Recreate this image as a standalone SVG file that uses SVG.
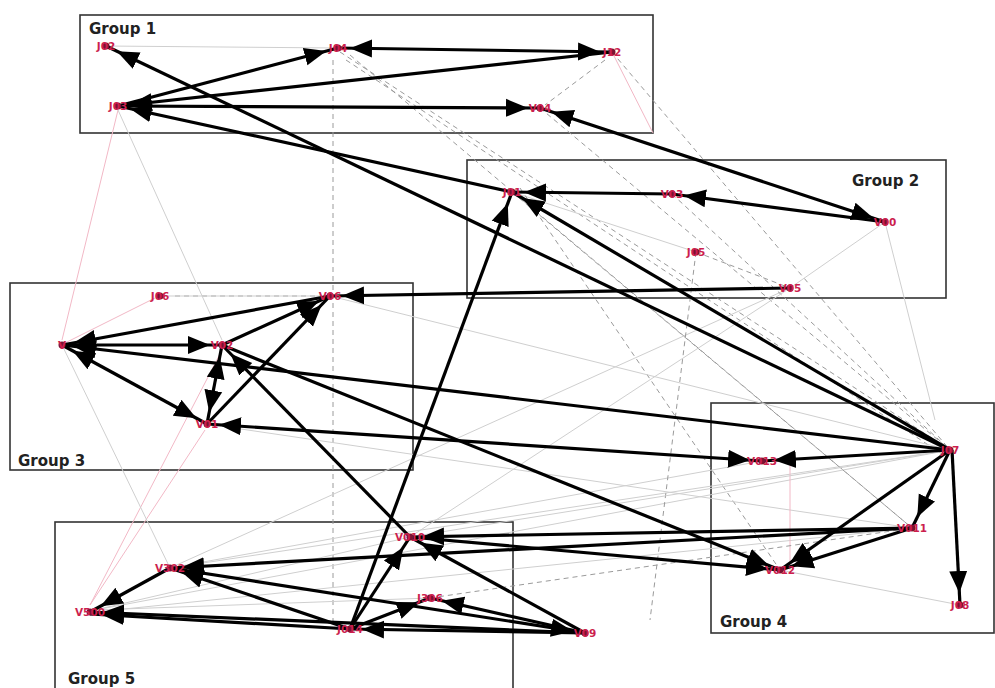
<svg xmlns="http://www.w3.org/2000/svg" width="995" height="688" viewBox="0 0 995 688">
<style>
.grp{fill:none;stroke:#333;stroke-width:1.6}
.gl{font-family:"DejaVu Sans",Verdana,sans-serif;font-weight:bold;font-size:15px;fill:#222}
.e{stroke:#000;stroke-width:3.2;fill:none;marker-end:url(#ah)}
.b{stroke:#000;stroke-width:3.2;fill:none;marker-end:url(#ah);marker-start:url(#ah)}
.f{stroke:#cfcfcf;stroke-width:1;fill:none}
.fd{stroke:#9a9a9a;stroke-width:1;fill:none;stroke-dasharray:5 4}
.fp{stroke:#f2b8c6;stroke-width:1;fill:none}
.dot{fill:#7a1232}
.nl{font-family:"DejaVu Sans",Verdana,sans-serif;font-weight:bold;font-size:10.5px;fill:#cc1f4e;text-anchor:middle;dominant-baseline:central}
</style>
<defs>
<marker id="ah" markerUnits="userSpaceOnUse" markerWidth="44" markerHeight="22" viewBox="0 0 44 18" refX="34" refY="9" orient="auto-start-reverse">
<path d="M0,0 L22,9 L0,18 z" fill="#000"/>
</marker>
</defs>
<rect width="995" height="688" fill="#fff"/>

<g id="groups">
<rect class="grp" x="80" y="15" width="573" height="118"/>
<text class="gl" x="89" y="34">Group 1</text>
<rect class="grp" x="467" y="160" width="479" height="138"/>
<text class="gl" x="852" y="186">Group 2</text>
<rect class="grp" x="10" y="283" width="403" height="187"/>
<text class="gl" x="18" y="466">Group 3</text>
<rect class="grp" x="711" y="403" width="283" height="230"/>
<text class="gl" x="720" y="627">Group 4</text>
<rect class="grp" x="55" y="522" width="458" height="170"/>
<text class="gl" x="68" y="684">Group 5</text>
</g>

<g id="connectors">
<g id="faint">
<line class="f" x1="106" y1="46" x2="338" y2="48"/>
<line class="fd" x1="340" y1="52" x2="950" y2="450"/>
<line class="fd" x1="346" y1="60" x2="945" y2="456"/>
<line class="fd" x1="350" y1="55" x2="912" y2="528"/>
<line class="fd" x1="612" y1="52" x2="950" y2="450"/>
<line class="fd" x1="605" y1="60" x2="545" y2="105"/>
<line class="fd" x1="333" y1="60" x2="333" y2="625"/>
<line class="fd" x1="175" y1="296" x2="315" y2="296"/>
<line class="fp" x1="155" y1="298" x2="65" y2="343"/>
<line class="fp" x1="118" y1="110" x2="62" y2="340"/>
<line class="f" x1="118" y1="110" x2="222" y2="340"/>
<line class="fp" x1="90" y1="605" x2="205" y2="430"/>
<line class="fp" x1="222" y1="350" x2="90" y2="605"/>
<line class="f" x1="95" y1="610" x2="430" y2="598"/>
<line class="f" x1="95" y1="610" x2="410" y2="537"/>
<line class="f" x1="95" y1="610" x2="950" y2="450"/>
<line class="f" x1="95" y1="612" x2="912" y2="528"/>
<line class="f" x1="170" y1="568" x2="950" y2="450"/>
<line class="f" x1="170" y1="568" x2="762" y2="461"/>
<line class="f" x1="170" y1="568" x2="790" y2="288"/>
<line class="f" x1="696" y1="252" x2="512" y2="192"/>
<line class="fd" x1="696" y1="252" x2="790" y2="288"/>
<line class="f" x1="885" y1="222" x2="790" y2="288"/>
<line class="f" x1="885" y1="222" x2="935" y2="420"/>
<line class="fd" x1="512" y1="192" x2="912" y2="528"/>
<line class="fd" x1="520" y1="188" x2="780" y2="570"/>
<line class="fd" x1="672" y1="194" x2="950" y2="450"/>
<line class="fd" x1="540" y1="108" x2="950" y2="450"/>
<line class="f" x1="330" y1="296" x2="950" y2="450"/>
<line class="f" x1="207" y1="424" x2="912" y2="528"/>
<line class="fp" x1="790" y1="461" x2="790" y2="570"/>
<line class="f" x1="960" y1="605" x2="780" y2="570"/>
<line class="f" x1="790" y1="288" x2="410" y2="537"/>
<line class="fd" x1="696" y1="252" x2="650" y2="620"/>
<line class="f" x1="62" y1="345" x2="170" y2="568"/>
<line class="f" x1="410" y1="537" x2="950" y2="450"/>
<line class="fd" x1="430" y1="598" x2="912" y2="528"/>
<line class="f" x1="160" y1="296" x2="330" y2="296"/>
<line class="fp" x1="612" y1="52" x2="653" y2="133"/>
</g>
<g id="arrows">
<line class="e" x1="118" y1="106" x2="338" y2="48"/>
<line class="b" x1="338" y1="48" x2="612" y2="52"/>
<line class="e" x1="612" y1="52" x2="118" y2="106"/>
<line class="e" x1="118" y1="106" x2="540" y2="108"/>
<line class="e" x1="512" y1="192" x2="118" y2="106"/>
<line class="e" x1="950" y1="450" x2="106" y2="46"/>
<line class="b" x1="540" y1="108" x2="885" y2="222"/>
<line class="e" x1="885" y1="222" x2="672" y2="194"/>
<line class="e" x1="672" y1="194" x2="512" y2="192"/>
<line class="e" x1="950" y1="450" x2="512" y2="192"/>
<line class="e" x1="350" y1="629" x2="512" y2="192"/>
<line class="e" x1="790" y1="288" x2="330" y2="296"/>
<line class="e" x1="330" y1="296" x2="62" y2="345"/>
<line class="e" x1="62" y1="345" x2="222" y2="345"/>
<line class="b" x1="62" y1="345" x2="207" y2="424"/>
<line class="e" x1="950" y1="450" x2="62" y2="345"/>
<line class="e" x1="222" y1="345" x2="330" y2="296"/>
<line class="e" x1="207" y1="424" x2="330" y2="296"/>
<line class="b" x1="222" y1="345" x2="207" y2="424"/>
<line class="e" x1="410" y1="537" x2="222" y2="345"/>
<line class="e" x1="222" y1="345" x2="780" y2="570"/>
<line class="b" x1="762" y1="461" x2="207" y2="424"/>
<line class="e" x1="950" y1="450" x2="762" y2="461"/>
<line class="e" x1="950" y1="450" x2="912" y2="528"/>
<line class="e" x1="950" y1="450" x2="780" y2="570"/>
<line class="e" x1="952" y1="450" x2="960" y2="605"/>
<line class="e" x1="912" y1="528" x2="780" y2="570"/>
<line class="e" x1="912" y1="528" x2="410" y2="537"/>
<line class="e" x1="410" y1="537" x2="780" y2="570"/>
<line class="e" x1="585" y1="633" x2="410" y2="537"/>
<line class="e" x1="350" y1="629" x2="410" y2="537"/>
<line class="e" x1="912" y1="528" x2="170" y2="568"/>
<line class="e" x1="170" y1="568" x2="90" y2="612"/>
<line class="e" x1="350" y1="629" x2="170" y2="568"/>
<line class="e" x1="170" y1="568" x2="585" y2="633"/>
<line class="e" x1="585" y1="633" x2="430" y2="598"/>
<line class="e" x1="350" y1="629" x2="430" y2="598"/>
<line class="e" x1="585" y1="633" x2="90" y2="612"/>
<line class="e" x1="350" y1="629" x2="90" y2="614"/>
<line class="e" x1="585" y1="633" x2="350" y2="629"/>
</g>
</g>

<g id="nodes">
<g id="n-J02"><circle class="dot" cx="106" cy="46" r="3.5"/><text class="nl" x="106" y="46">J02</text></g>
<g id="n-J03"><circle class="dot" cx="118" cy="106" r="3.5"/><text class="nl" x="118" y="106">J03</text></g>
<g id="n-J04"><circle class="dot" cx="338" cy="48" r="3.5"/><text class="nl" x="338" y="48">J04</text></g>
<g id="n-J12"><circle class="dot" cx="612" cy="52" r="3.5"/><text class="nl" x="612" y="52">J12</text></g>
<g id="n-V04"><circle class="dot" cx="540" cy="108" r="3.5"/><text class="nl" x="540" y="108">V04</text></g>
<g id="n-J01"><circle class="dot" cx="512" cy="192" r="3.5"/><text class="nl" x="512" y="192">J01</text></g>
<g id="n-V03"><circle class="dot" cx="672" cy="194" r="3.5"/><text class="nl" x="672" y="194">V03</text></g>
<g id="n-V00"><circle class="dot" cx="885" cy="222" r="3.5"/><text class="nl" x="885" y="222">V00</text></g>
<g id="n-J05"><circle class="dot" cx="696" cy="252" r="3.5"/><text class="nl" x="696" y="252">J05</text></g>
<g id="n-V05"><circle class="dot" cx="790" cy="288" r="3.5"/><text class="nl" x="790" y="288">V05</text></g>
<g id="n-J06"><circle class="dot" cx="160" cy="296" r="3.5"/><text class="nl" x="160" y="296">J06</text></g>
<g id="n-V06"><circle class="dot" cx="330" cy="296" r="3.5"/><text class="nl" x="330" y="296">V06</text></g>
<g id="n-V"><circle class="dot" cx="62" cy="345" r="3.5"/><text class="nl" x="62" y="345">V</text></g>
<g id="n-V02"><circle class="dot" cx="222" cy="345" r="3.5"/><text class="nl" x="222" y="345">V02</text></g>
<g id="n-V01"><circle class="dot" cx="207" cy="424" r="3.5"/><text class="nl" x="207" y="424">V01</text></g>
<g id="n-J07"><circle class="dot" cx="950" cy="450" r="3.5"/><text class="nl" x="950" y="450">J07</text></g>
<g id="n-V013"><circle class="dot" cx="762" cy="461" r="3.5"/><text class="nl" x="762" y="461">V013</text></g>
<g id="n-V011"><circle class="dot" cx="912" cy="528" r="3.5"/><text class="nl" x="912" y="528">V011</text></g>
<g id="n-V012"><circle class="dot" cx="780" cy="570" r="3.5"/><text class="nl" x="780" y="570">V012</text></g>
<g id="n-J08"><circle class="dot" cx="960" cy="605" r="3.5"/><text class="nl" x="960" y="605">J08</text></g>
<g id="n-V010"><circle class="dot" cx="410" cy="537" r="3.5"/><text class="nl" x="410" y="537">V010</text></g>
<g id="n-V302"><circle class="dot" cx="170" cy="568" r="3.5"/><text class="nl" x="170" y="568">V302</text></g>
<g id="n-J306"><circle class="dot" cx="430" cy="598" r="3.5"/><text class="nl" x="430" y="598">J306</text></g>
<g id="n-V500"><circle class="dot" cx="90" cy="612" r="3.5"/><text class="nl" x="90" y="612">V500</text></g>
<g id="n-J014"><circle class="dot" cx="350" cy="629" r="3.5"/><text class="nl" x="350" y="629">J014</text></g>
<g id="n-V09"><circle class="dot" cx="585" cy="633" r="3.5"/><text class="nl" x="585" y="633">V09</text></g>
</g>
</svg>
